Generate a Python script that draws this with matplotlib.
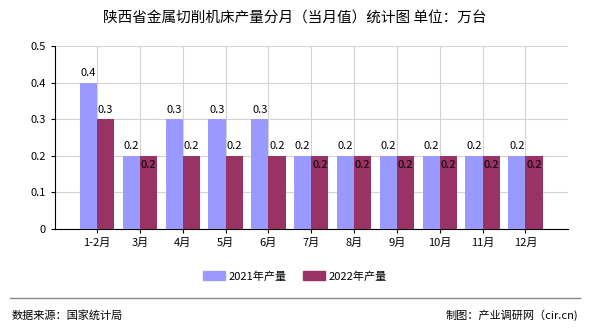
import numpy as np
import matplotlib.pyplot as plt
from matplotlib.patches import Patch

plt.rcParams['font.family'] = ['Noto Sans CJK SC', 'DejaVu Sans']

months = ['1-2月', '3月', '4月', '5月', '6月', '7月', '8月', '9月', '10月', '11月', '12月']
v2021 = [0.4, 0.2, 0.3, 0.3, 0.3, 0.2, 0.2, 0.2, 0.2, 0.2, 0.2]
v2022 = [0.3, 0.2, 0.2, 0.2, 0.2, 0.2, 0.2, 0.2, 0.2, 0.2, 0.2]

c2021 = '#9999ff'
c2022 = '#993366'

fig = plt.figure(figsize=(5.9, 3.3), dpi=100)
ax = fig.add_axes([0.0932, 0.306, 0.870, 0.5546])

x = np.arange(len(months))
w = 0.4
ax.bar(x - w/2, v2021, w, color=c2021, zorder=3)
ax.bar(x + w/2, v2022, w, color=c2022, zorder=3)

# labels: 2022 label goes just inside the bar when it equals 2021
for i in range(len(months)):
    ax.text(x[i] - w/2, v2021[i] + 0.012, str(v2021[i]), ha='center', va='bottom', fontsize=8, zorder=4)
    if v2022[i] == v2021[i]:
        ax.text(x[i] + w/2, v2022[i] - 0.012, str(v2022[i]), ha='center', va='top', fontsize=8, zorder=4)
    else:
        ax.text(x[i] + w/2, v2022[i] + 0.012, str(v2022[i]), ha='center', va='bottom', fontsize=8, zorder=4)

ax.set_xlim(-0.98, 11)
ax.set_ylim(0, 0.5)
ax.set_yticks([0, 0.1, 0.2, 0.3, 0.4, 0.5])
ax.set_yticklabels(['0', '0.1', '0.2', '0.3', '0.4', '0.5'])
ax.set_xticks(x)
ax.set_xticklabels(months)
ax.tick_params(axis='both', labelsize=8, length=3, color='black')
ax.grid(True, color='#d3d3d3', linewidth=0.8, zorder=0)
for s in ['top', 'right']:
    ax.spines[s].set_visible(False)
ax.spines['left'].set_color('black')
ax.spines['bottom'].set_color('black')

fig.text(0.5, 0.945, '陕西省金属切削机床产量分月（当月值）统计图 单位：万台', ha='center', va='center', fontsize=10.5)

handles = [Patch(color=c2021, label='2021年产量'), Patch(color=c2022, label='2022年产量')]
fig.legend(handles=handles, loc='center', bbox_to_anchor=(0.5, 0.163), ncol=2, frameon=False,
           fontsize=8, handlelength=2.0, handleheight=0.9, handletextpad=0.3, columnspacing=1.5)

fig.add_artist(plt.Line2D([0.017, 0.983], [0.097, 0.097], color='#888888', linewidth=1))
fig.text(0.02, 0.045, '数据来源：国家统计局', ha='left', va='center', fontsize=8)
fig.text(0.98, 0.045, '制图：产业调研网（cir.cn)', ha='right', va='center', fontsize=8)

fig.savefig('out.png', dpi=100)
